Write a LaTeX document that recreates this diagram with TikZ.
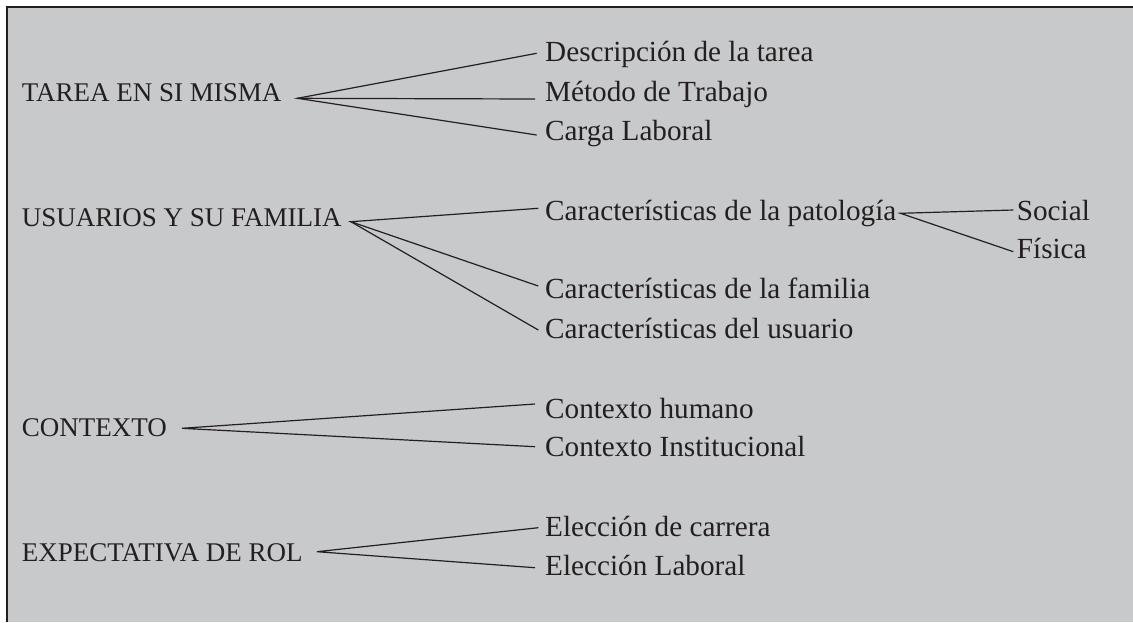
\documentclass[tikz,border=0pt]{standalone}
\usepackage{fontspec}
\setmainfont{Liberation Serif}
\definecolor{panel}{HTML}{C8C9CB}
\definecolor{ink}{HTML}{231F20}
\tikzset{
  headtxt/.style={anchor=base west, inner sep=0pt, text=ink, font=\fontsize{27}{32}\selectfont},
  itemtxt/.style={anchor=base west, inner sep=0pt, text=ink, font=\fontsize{29.2}{34}\selectfont},
  link/.style={draw=ink, line width=1.2pt},
}
\begin{document}
\begin{tikzpicture}[x=1pt,y=-1pt]
\useasboundingbox (0,0) rectangle (1133,622);
\fill[white] (0,0) rectangle (1133,622);
\fill[panel] (7,7) rectangle (1133,622);
\draw[ink, line width=2.5pt] (7,622) -- (7,7) -- (1133,7);

% main categories
\node[headtxt] (tarea) at (21.7,101.7) {TAREA EN SI MISMA};
\node[headtxt] (usuarios) at (21.7,226.5) {USUARIOS Y SU FAMILIA};
\node[headtxt] (contexto) at (21.7,436) {CONTEXTO};
\node[headtxt] (expect) at (21.7,561) {EXPECTATIVA DE ROL};

% sub items
\node[itemtxt] (desc) at (545,61.7) {Descripción de la tarea};
\node[itemtxt] (metodo) at (545,101) {Método de Trabajo};
\node[itemtxt] (carga) at (545,140) {Carga Laboral};
\node[itemtxt] (carpat) at (545,220.7) {Características de la patología};
\node[itemtxt] (social) at (1016.7,220.7) {Social};
\node[itemtxt] (fisica) at (1016.7,258.3) {Física};
\node[itemtxt] (carfam) at (545,298) {Características de la familia};
\node[itemtxt] (carusu) at (545,338) {Características del usuario};
\node[itemtxt] (ctxhum) at (545,418.3) {Contexto humano};
\node[itemtxt] (ctxinst) at (545,456.7) {Contexto Institucional};
\node[itemtxt] (eleccar) at (545,536.7) {Elección de carrera};
\node[itemtxt] (elelab) at (545,575) {Elección Laboral};

% connectors
\draw[link] ([shift={(-8.3,-8.4)}]desc.base west) -- ([shift={(15.7,-3.4)}]tarea.base east) -- ([shift={(-8.3,-5)}]carga.base west);
\draw[link] ([shift={(15.7,-3.4)}]tarea.base east) -- ([shift={(-10,-2)}]metodo.base west);

\draw[link] ([shift={(-6.7,-12.4)}]carpat.base west) -- ([shift={(9,-4.8)}]usuarios.base east) -- ([shift={(-6.7,-12)}]carfam.base west);
\draw[link] ([shift={(9,-4.8)}]usuarios.base east) -- ([shift={(-6.7,-8)}]carusu.base west);

\draw[link] ([shift={(-3.4,-10.7)}]social.base west) -- ([shift={(4,-7.4)}]carpat.base east) -- ([shift={(-3.4,-6.6)}]fisica.base west);

\draw[link] ([shift={(-10,-14.3)}]ctxhum.base west) -- ([shift={(14.7,-7.7)}]contexto.base east) -- ([shift={(-10,-10)}]ctxinst.base west);

\draw[link] ([shift={(-6.7,-9)}]eleccar.base west) -- ([shift={(14,-9.3)}]expect.base east) -- ([shift={(-10,-7.3)}]elelab.base west);
\end{tikzpicture}
\end{document}
